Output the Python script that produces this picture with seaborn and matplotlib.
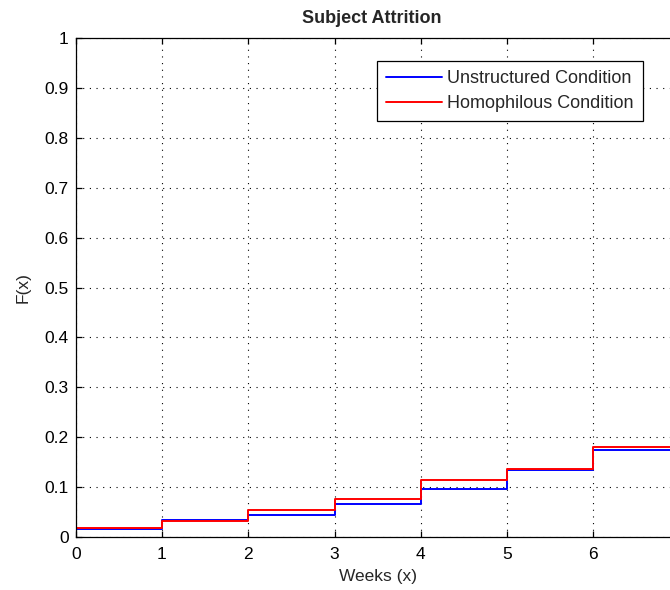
import matplotlib
matplotlib.use("Agg")
import matplotlib.pyplot as plt
import seaborn as sns
import pandas as pd

weeks = [0, 1, 2, 3, 4, 5, 6, 7]
unstructured = [0.016, 0.035, 0.044, 0.066, 0.097, 0.134, 0.174, 0.174]
homophilous = [0.019, 0.033, 0.055, 0.077, 0.114, 0.136, 0.180, 0.180]
series_names = ["Unstructured Condition", "Homophilous Condition"]
x_ticks = [0, 1, 2, 3, 4, 5, 6, 7]
y_ticks = [0, 0.1, 0.2, 0.3, 0.4, 0.5, 0.6, 0.7, 0.8, 0.9, 1]
y_tick_labels = ["0", "0.1", "0.2", "0.3", "0.4", "0.5", "0.6", "0.7", "0.8", "0.9", "1"]

df = pd.DataFrame({
    "Weeks": weeks + weeks,
    "F": unstructured + homophilous,
    "Condition": [series_names[0]] * len(weeks) + [series_names[1]] * len(weeks),
})

sns.set_style("white")
plt.rcParams["font.family"] = ["Liberation Sans", "DejaVu Sans"]
plt.rcParams["font.size"] = 12.5

fig = plt.figure(figsize=(6.7, 5.9), dpi=100)
ax = fig.add_axes([75.7 / 670, 53 / 590, 604 / 670, 499 / 590])

sns.lineplot(data=df, x="Weeks", y="F", hue="Condition",
             palette={series_names[0]: "#0000ff", series_names[1]: "#ff0000"},
             drawstyle="steps-post", linewidth=1.4, ax=ax, legend=False,
             estimator=None, sort=False)

ax.set_xlim(0, 7)
ax.set_ylim(0, 1)
ax.set_xticks(x_ticks)
ax.set_xticklabels([str(t) for t in x_ticks])
ax.set_yticks(y_ticks)
ax.set_yticklabels(y_tick_labels)

ax.grid(True, color="black", linestyle=(0, (1, 5)), linewidth=0.8)
ax.set_axisbelow(True)
for s in ax.spines.values():
    s.set_visible(True)
    s.set_color("black")
    s.set_linewidth(0.9)
ax.tick_params(direction="in", length=4, width=0.9, top=True, right=True,
               bottom=True, left=True, labelsize=12.5, colors="black", pad=5)
ax.tick_params(axis="x", pad=7)

ax.set_title("Subject Attrition", fontsize=13, fontweight="bold", pad=11,
             x=(372 - 75.7) / 604)
ax.set_xlabel("Weeks (x)", fontsize=12.5, labelpad=5)
ax.set_ylabel("F(x)", fontsize=12.5, labelpad=10)

lines = ax.get_lines()
leg = ax.legend(lines[:2], series_names, loc="upper right",
                bbox_to_anchor=((643 - 75.7) / 604, (537 - 61) / 499),
                borderaxespad=0, frameon=True, fancybox=False, shadow=False,
                handlelength=3.1, handletextpad=0.3, borderpad=0.5,
                labelspacing=0.45, fontsize=13)
leg.get_frame().set_edgecolor("black")
leg.get_frame().set_linewidth(0.9)
leg.get_frame().set_facecolor("white")
leg.get_frame().set_alpha(1)

fig.savefig("out.png", dpi=100)
